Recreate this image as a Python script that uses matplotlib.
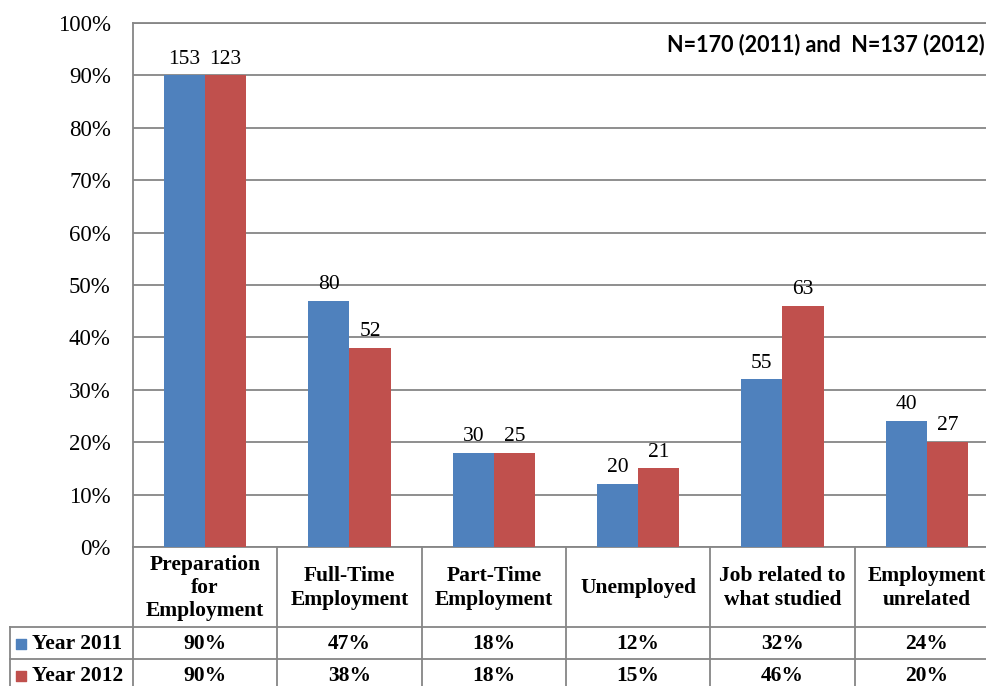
import matplotlib.pyplot as plt
import numpy as np

categories = ["Preparation\nfor\nEmployment", "Full-Time\nEmployment", "Part-Time\nEmployment",
              "Unemployed", "Job related to\nwhat studied", "Employment\nunrelated"]
series_names = ["Year 2011", "Year 2012"]
pct_2011 = [90, 47, 18, 12, 32, 24]
pct_2012 = [90, 38, 18, 15, 46, 20]
n_2011 = [153, 80, 30, 20, 55, 40]
n_2012 = [123, 52, 25, 21, 63, 27]
y_ticks = [0, 10, 20, 30, 40, 50, 60, 70, 80, 90, 100]
note = "N=170 (2011) and  N=137 (2012)"

blue = "#4F81BD"
red = "#C0504D"
grid = "#868686"
serif = "Liberation Serif"

W, H = 987, 686
fig = plt.figure(figsize=(W / 100, H / 100), dpi=100)

# main plot area (pixel geometry of the reference)
x0, x1 = 133, 999
y_top, y_bot = 23, 547
ax = fig.add_axes([x0 / W, 1 - y_bot / H, (x1 - x0) / W, (y_bot - y_top) / H])
x = np.arange(len(categories))
bw = 0.285
ax.bar(x - bw / 2, pct_2011, bw, color=blue, zorder=3)
ax.bar(x + bw / 2, pct_2012, bw, color=red, zorder=3)
for i in range(len(categories)):
    ax.text(x[i] - bw / 2, pct_2011[i] + 1.3, str(n_2011[i]), ha="center", va="bottom",
            fontsize=15.5, family=serif, zorder=4)
    ax.text(x[i] + bw / 2, pct_2012[i] + 1.3, str(n_2012[i]), ha="center", va="bottom",
            fontsize=15.5, family=serif, zorder=4)
ax.set_xlim(-0.5, len(categories) - 0.5)
ax.set_ylim(0, 100)
ax.set_yticks(y_ticks)
ax.set_yticklabels([f"{v}%" for v in y_ticks], family=serif, fontsize=16.5)
ax.tick_params(axis="y", length=0, pad=16)
ax.set_xticks([])
for v in y_ticks:
    ax.axhline(v, color=grid, lw=1.3, zorder=1)
for s in ax.spines.values():
    s.set_color(grid)
    s.set_linewidth(1.3)
fig.text(985 / W, 1 - 45 / H, note, ha="right", va="center", fontsize=15.5,
         fontweight="bold", family="Lato")

# data table under the plot
tl = 10
cw = (x1 - x0) / len(categories)
tx_left = -0.5 - (x0 - tl) / cw
t_top, t_bot = 547, 691
tab = fig.add_axes([tl / W, 1 - t_bot / H, (x1 - tl) / W, (t_bot - t_top) / H])
tab.set_xlim(tx_left, len(categories) - 0.5)
tab.set_ylim(144, 0)
tab.axis("off")
lw = 1.3
xr = len(categories) - 0.5
# vertical lines
for k in range(len(categories) + 1):
    tab.plot([k - 0.5, k - 0.5], [0, 144], color=grid, lw=lw, clip_on=False)
tab.plot([tx_left, tx_left], [80, 144], color=grid, lw=lw, clip_on=False)
# horizontal lines
for yy in (80, 112, 144):
    tab.plot([tx_left, xr], [yy, yy], color=grid, lw=lw, clip_on=False)

fs = 15.5
for i, c in enumerate(categories):
    tab.text(x[i], 41, c, ha="center", va="center", fontsize=fs, fontweight="bold",
             family=serif, linespacing=1.22)
    tab.text(x[i], 97, f"{pct_2011[i]}%", ha="center", va="center", fontsize=fs,
             fontweight="bold", family=serif)
    tab.text(x[i], 129, f"{pct_2012[i]}%", ha="center", va="center", fontsize=fs,
             fontweight="bold", family=serif)

for r, name, col in [(97, series_names[0], blue), (129, series_names[1], red)]:
    tab.scatter([tx_left + 0.075], [r], marker="s", s=60, color=col, clip_on=False)
    tab.text(tx_left + 0.15, r, name, ha="left", va="center", fontsize=fs,
             fontweight="bold", family=serif)

fig.savefig("out.png", dpi=100)
